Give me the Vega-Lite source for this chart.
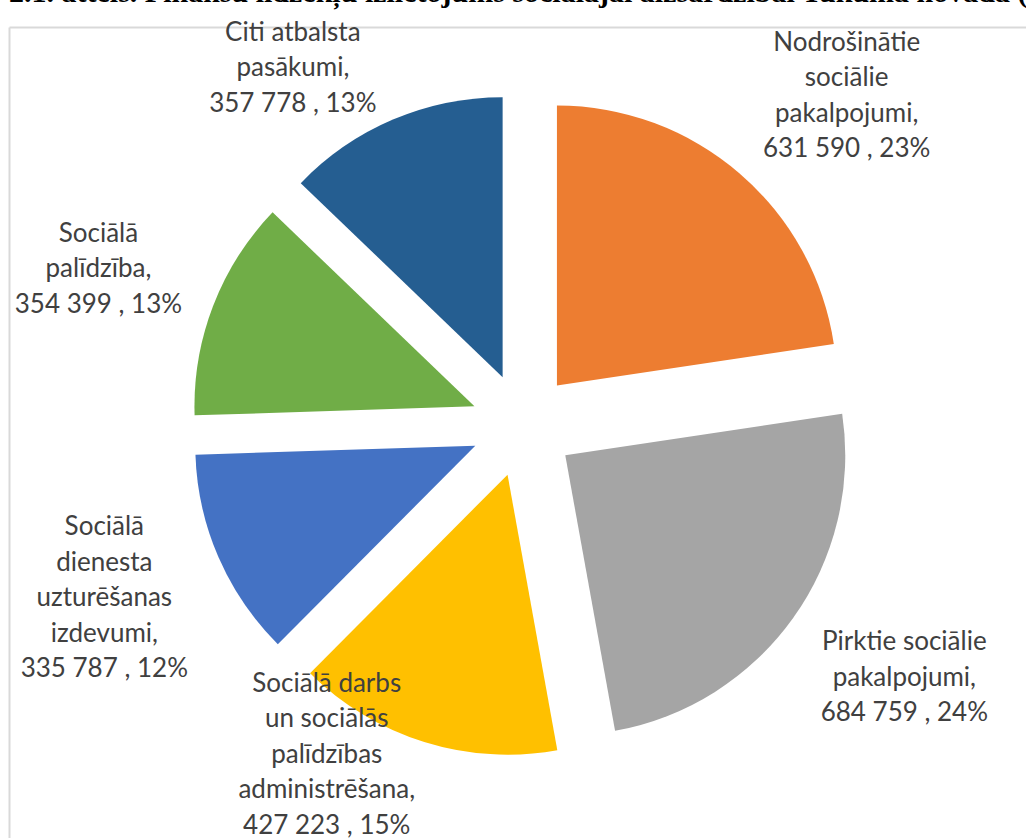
{
  "$schema": "https://vega.github.io/schema/vega-lite/v6.json",
  "width": 1017,
  "height": 811,
  "autosize": {"type": "none"},
  "padding": {"left": 9, "top": 27, "right": 0, "bottom": 0},
  "background": "white",
  "title": {
    "text": "2.1. attēls. Finanšu līdzekļu izlietojums sociālajai aizsardzībai Tukuma novadā (2019. gads)",
    "anchor": "start",
    "font": "Liberation Serif",
    "fontSize": 30,
    "fontWeight": "bold",
    "color": "black",
    "offset": 12
  },
  "config": {"view": {"stroke": null}},
  "data": {
    "values": [
      {"category": "Nodrošinātie\nsociālie\npakalpojumi", "value": 631590, "percent": 23},
      {"category": "Pirktie sociālie\npakalpojumi", "value": 684759, "percent": 24},
      {"category": "Sociālā darbs\nun sociālās\npalīdzības\nadministrēšana", "value": 427223, "percent": 15},
      {"category": "Sociālā\ndienesta\nuzturēšanas\nizdevumi", "value": 335787, "percent": 12},
      {"category": "Sociālā\npalīdzība", "value": 354399, "percent": 13},
      {"category": "Citi atbalsta\npasākumi", "value": 357778, "percent": 13}
    ]
  },
  "transform": [
    {"joinaggregate": [{"op": "sum", "field": "value", "as": "total"}]},
    {"window": [{"op": "sum", "field": "value", "as": "end"}], "frame": [null, 0]},
    {"calculate": "datum.end - datum.value", "as": "start"},
    {"calculate": "2*PI*(datum.start + datum.value/2)/datum.total", "as": "mid"},
    {"calculate": "0.1857*sin(datum.mid)", "as": "ex"},
    {"calculate": "0.1857*cos(datum.mid)", "as": "ey"},
    {"calculate": "datum.category + ',\\n' + replace(format(datum.value, ','), ',', ' ') + ' , ' + datum.percent + '%'", "as": "label"},
    {"calculate": "(length(split(datum.category, '\\n')) + 1) * 0.0634", "as": "halfh"},
    {"calculate": "1.282*sin(datum.mid) + (sin(datum.mid) >= 0 ? 0.3196 : -0.3196)", "as": "lx"},
    {"calculate": "clamp(1.55*cos(datum.mid), -1.495 + datum.halfh, 1.464 - datum.halfh) + datum.halfh - 0.0634", "as": "ly"}
  ],
  "layer": [
    {
      "mark": {"type": "arc", "outerRadius": 280, "innerRadius": 0},
      "encoding": {
        "x": {
          "field": "ex", "type": "quantitative",
          "scale": {"domain": [-1.83571, 1.79643], "nice": false, "zero": false},
          "axis": {"orient": "top", "domain": true, "domainColor": "#d9d9d9", "domainWidth": 2, "ticks": false, "labels": false, "grid": false, "title": null}
        },
        "y": {
          "field": "ey", "type": "quantitative",
          "scale": {"domain": [-1.475, 1.42143], "nice": false, "zero": false},
          "axis": {"orient": "left", "domain": true, "domainColor": "#d9d9d9", "domainWidth": 2, "ticks": false, "labels": false, "grid": false, "title": null}
        },
        "theta": {"field": "end", "type": "quantitative", "scale": {"zero": true, "nice": false}},
        "theta2": {"field": "start"},
        "color": {
          "field": "category", "type": "nominal",
          "scale": {
            "domain": [
              "Nodrošinātie\nsociālie\npakalpojumi",
              "Pirktie sociālie\npakalpojumi",
              "Sociālā darbs\nun sociālās\npalīdzības\nadministrēšana",
              "Sociālā\ndienesta\nuzturēšanas\nizdevumi",
              "Sociālā\npalīdzība",
              "Citi atbalsta\npasākumi"
            ],
            "range": ["#ED7D31", "#A5A5A5", "#FFC000", "#4472C4", "#70AD47", "#255E91"]
          },
          "legend": null
        }
      }
    },
    {
      "mark": {"type": "text", "lineBreak": "\n", "lineHeight": 35.5, "font": "Lato", "fontSize": 26, "color": "#404040", "align": "center", "baseline": "middle"},
      "encoding": {
        "x": {"field": "lx", "type": "quantitative"},
        "y": {"field": "ly", "type": "quantitative"},
        "text": {"field": "label", "type": "nominal"}
      }
    }
  ]
}
